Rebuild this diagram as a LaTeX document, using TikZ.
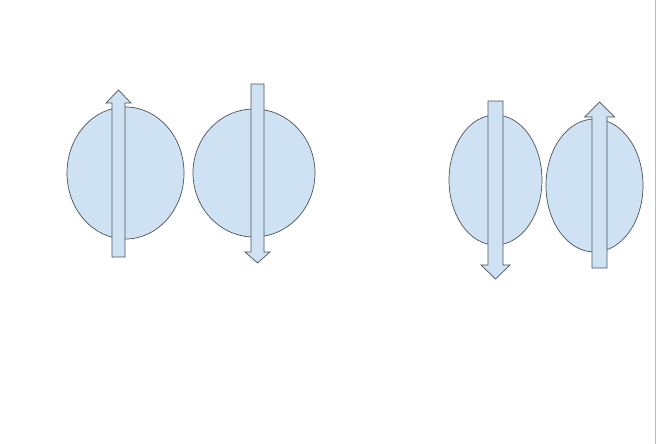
\documentclass[tikz,border=0pt]{standalone}
\usetikzlibrary{shapes.geometric}
\definecolor{blobfill}{HTML}{CFE2F3}
\definecolor{blobline}{HTML}{4A525A}
\definecolor{edgeline}{HTML}{B8BEC6}
\tikzset{
  blob/.style={fill=blobfill, draw=blobline, line width=0.7pt},
  spinarrow/.style={fill=blobfill, draw=blobline, line width=0.7pt, line join=miter},
}
\newcommand{\uparr}[6]{% x1 x2 bottom headbase hl hr tip
  \draw[spinarrow] (#1,#3) -- (#1,#4) -- (#5,#4) -- ({(#1+#2)/2},#6) -- ({#5+(#2-#1)+2*(#1-#5)},#4) -- (#2,#4) -- (#2,#3) -- cycle;}
\begin{document}
\begin{tikzpicture}[x=1pt,y=-1pt]
\useasboundingbox (0,0) rectangle (661,444);
\fill[white] (0,0) rectangle (661,444);
\draw[edgeline, line width=0.8pt] (655,0) -- (655,444);
% pair 1
\draw[blob] (125.5,173) ellipse [x radius=58.5, y radius=66];
\draw[spinarrow] (112,257) -- (112,103) -- (106,103) -- (118.5,90) -- (131,103) -- (125,103) -- (125,257) -- cycle;
\draw[blob] (254,173) ellipse [x radius=61, y radius=64];
\draw[spinarrow] (251,84) -- (251,252) -- (245,252) -- (257.5,263) -- (270,252) -- (264,252) -- (264,84) -- cycle;
% pair 2
\draw[blob] (495.5,180) ellipse [x radius=46.5, y radius=65];
\draw[spinarrow] (488,101) -- (488,265) -- (481,265) -- (495.5,279) -- (510,265) -- (503,265) -- (503,101) -- cycle;
\draw[blob] (594.5,185.5) ellipse [x radius=48.5, y radius=66.5];
\draw[spinarrow] (592,268) -- (592,117) -- (584.5,117) -- (599.5,102) -- (614.5,117) -- (607,117) -- (607,268) -- cycle;
\end{tikzpicture}
\end{document}
